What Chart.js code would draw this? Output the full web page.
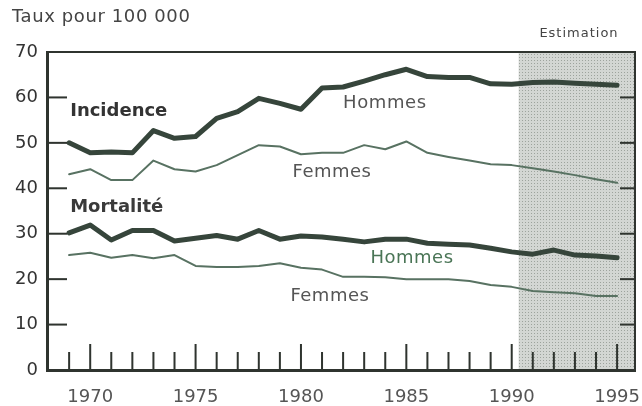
<!DOCTYPE html>
<html>
<head>
<meta charset="utf-8">
<script src="https://cdn.jsdelivr.net/npm/chart.js@4"></script>
<style>
  html, body { margin: 0; padding: 0; background: #fff; }
  #wrap { position: relative; width: 642px; height: 406px; }
  #box { position: absolute; box-sizing: border-box; pointer-events: none;
         border-style: solid; border-color: #2f342f; border-width: 2px 2px 3px 3px; }
</style>
</head>
<body>
<div id="wrap"><canvas id="myChart" width="642" height="406"></canvas><div id="box"></div></div>
<script>
Chart.defaults.font.family = "DejaVu Sans";
Chart.defaults.font.size = 18;
Chart.defaults.color = "#3a3a3a";

// years and rates per 100 000
const years = [1969,1970,1971,1972,1973,1974,1975,1976,1977,1978,1979,1980,1981,1982,
               1983,1984,1985,1986,1987,1988,1989,1990,1991,1992,1993,1994,1995];
const incidenceHommes = [50.0,47.8,48.0,47.8,52.7,51.0,51.4,55.4,56.9,59.8,58.7,57.4,62.1,62.3,
                         63.6,65.0,66.2,64.6,64.4,64.4,63.0,62.9,63.3,63.4,63.1,62.9,62.7];
const incidenceFemmes = [43.1,44.2,41.8,41.8,46.1,44.2,43.7,45.1,47.3,49.5,49.2,47.5,47.8,47.8,
                         49.5,48.6,50.3,47.8,46.9,46.1,45.3,45.1,44.4,43.7,42.9,42.0,41.2];
const mortaliteHommes = [30.2,31.9,28.6,30.7,30.7,28.4,29.0,29.6,28.8,30.7,28.8,29.5,29.3,28.8,
                         28.2,28.8,28.8,27.9,27.7,27.5,26.8,26.0,25.5,26.4,25.3,25.1,24.7];
const mortaliteFemmes = [25.3,25.8,24.7,25.3,24.6,25.3,22.9,22.7,22.7,22.9,23.5,22.5,22.1,20.5,
                         20.5,20.4,20.0,20.0,20.0,19.6,18.7,18.3,17.4,17.1,16.9,16.3,16.3];
const xTickLabels = [1970, 1975, 1980, 1985, 1990, 1995];
const yTickLabels = [0, 10, 20, 30, 40, 50, 60, 70];
const estimationStart = 1990.33;
const xMin = 1967.95, xMax = 1995.85;

const pts = vals => years.map((yr, i) => ({ x: yr, y: vals[i] }));

const thick = '#36453b';
const thin = '#587262';
const ink = '#2f342f';

const frame = {
  id: 'frame',
  beforeDatasetsDraw(chart) {
    const { ctx, chartArea: a, scales: { x } } = chart;
    const x0 = x.getPixelForValue(estimationStart);
    // stippled estimation zone
    const p = document.createElement('canvas');
    p.width = 3; p.height = 3;
    const pc = p.getContext('2d');
    pc.fillStyle = '#d3d6d3'; pc.fillRect(0, 0, 3, 3);
    pc.fillStyle = '#9da39d'; pc.fillRect(0, 0, 1, 1);
    ctx.save();
    ctx.fillStyle = ctx.createPattern(p, 'repeat');
    ctx.fillRect(x0, a.top, a.right - x0, a.bottom - a.top);
    ctx.restore();
  },
  afterDraw(chart) {
    const { ctx, scales: { x, y } } = chart;
    const L = x.getPixelForValue(xMin), R = x.getPixelForValue(xMax);
    const B = y.getPixelForValue(0);
    ctx.save();
    ctx.fillStyle = ink;
    // inner value ticks
    yTickLabels.slice(1, -1).forEach(v => {
      const py = y.getPixelForValue(v);
      ctx.fillRect(L, py - 1, 20, 2);
      ctx.fillRect(R - 15, py - 1, 15, 2);
    });
    // year ticks
    years.forEach(yr => {
      const px = x.getPixelForValue(yr);
      const len = yr % 5 === 0 ? 26 : 18;
      ctx.fillRect(px - 1, B - len, 2, len);
    });
    // texts
    const put = (txt, xv, yv, font, color, spacing) => {
      ctx.font = font;
      ctx.fillStyle = color;
      ctx.letterSpacing = spacing;
      ctx.textBaseline = 'middle';
      ctx.textAlign = 'left';
      ctx.fillText(txt, x.getPixelForValue(xv), y.getPixelForValue(yv));
    };
    put('Incidence', 1969.05, 57.0, 'bold 18px "DejaVu Sans"', '#333', '0px');
    put('Hommes', 1982.0, 58.6, '18px "DejaVu Sans"', '#555', '0.6px');
    put('Femmes', 1979.6, 43.6, '18px "DejaVu Sans"', '#555', '0.5px');
    put('Mortalité', 1969.05, 35.7, 'bold 18px "DejaVu Sans"', '#3a3a3a', '0px');
    put('Hommes', 1983.3, 24.65, '18px "DejaVu Sans"', '#4a7556', '0.5px');
    put('Femmes', 1979.5, 16.3, '18px "DejaVu Sans"', '#555', '0.5px');
    ctx.font = '13px "DejaVu Sans"';
    ctx.fillStyle = '#444';
    ctx.letterSpacing = '1px';
    ctx.textAlign = 'center';
    ctx.fillText('Estimation', 579, 34);
    ctx.font = '18px "DejaVu Sans"';
    ctx.letterSpacing = '0.6px';
    ctx.textAlign = 'left';
    ctx.fillText('Taux pour 100 000', 12, 17);
    ctx.letterSpacing = '0px';
    ctx.restore();
  }
};

const data = {
  datasets: [
    { label: 'Incidence Hommes', data: pts(incidenceHommes), borderColor: thick, borderWidth: 5 },
    { label: 'Incidence Femmes', data: pts(incidenceFemmes), borderColor: thin, borderWidth: 2 },
    { label: 'Mortalité Hommes', data: pts(mortaliteHommes), borderColor: thick, borderWidth: 5 },
    { label: 'Mortalité Femmes', data: pts(mortaliteFemmes), borderColor: thin, borderWidth: 2 }
  ]
};

const chartOptions = {
  responsive: false,
  animation: false,
  layout: { autoPadding: false, padding: { top: 52, right: 7, left: 0, bottom: 0 } },
  elements: { point: { radius: 0 }, line: { tension: 0, borderJoinStyle: 'round', borderCapStyle: 'round' } },
  plugins: { legend: { display: false }, tooltip: { enabled: false } },
  scales: {
    x: {
      type: 'linear',
      min: xMin,
      max: xMax,
      grid: { display: false, drawTicks: false },
      border: { display: false },
      afterBuildTicks: s => { s.ticks = xTickLabels.map(v => ({ value: v })); },
      afterFit: s => { s.height = 36; s.paddingLeft = 0; s.paddingRight = 0; },
      ticks: { padding: 17, color: '#555', maxRotation: 0, callback: v => String(v) }
    },
    y: {
      min: 0,
      max: 70,
      grid: { display: false, drawTicks: false },
      border: { display: false },
      afterBuildTicks: s => { s.ticks = yTickLabels.map(v => ({ value: v })); },
      afterFit: s => { s.width = 47; },
      ticks: { padding: 9, color: '#333' }
    }
  }
};

const myChart = new Chart(document.getElementById('myChart'), {
  type: 'line',
  data: data,
  options: chartOptions,
  plugins: [frame]
});

// plot frame placed on the chart area computed by Chart.js
const a = myChart.chartArea;
const box = document.getElementById('box');
box.style.left = (a.left - 1.5) + 'px';
box.style.top = (a.top - 1) + 'px';
box.style.width = (a.right - a.left + 2.5) + 'px';
box.style.height = (a.bottom - a.top + 2.5) + 'px';
</script>
</body>
</html>
